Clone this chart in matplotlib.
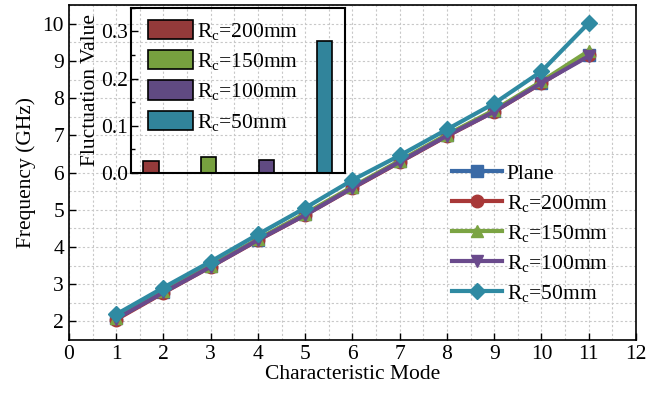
import numpy as np
import matplotlib.pyplot as plt
from matplotlib.ticker import MultipleLocator

plt.rcParams['font.family'] = ['Liberation Serif', 'DejaVu Serif']
plt.rcParams['mathtext.fontset'] = 'custom'
plt.rcParams['mathtext.rm'] = 'Liberation Serif'
plt.rcParams['mathtext.it'] = 'Liberation Serif'

# characteristic modes and resonant frequencies (GHz)
modes = np.arange(1, 12)
f_plane = [2.08, 2.80, 3.49, 4.20, 4.88, 5.60, 6.30, 7.00, 7.66, 8.42, 9.15]
f_200 = [2.05, 2.77, 3.47, 4.18, 4.86, 5.58, 6.28, 6.98, 7.64, 8.40, 9.17]
f_150 = [2.10, 2.81, 3.50, 4.21, 4.90, 5.62, 6.32, 7.02, 7.68, 8.45, 9.27]
f_100 = [2.07, 2.78, 3.47, 4.19, 4.86, 5.59, 6.29, 6.99, 7.64, 8.41, 9.13]
f_50 = [2.19, 2.91, 3.61, 4.34, 5.05, 5.80, 6.46, 7.16, 7.86, 8.72, 10.02]

# fluctuation values for inset bar chart
bar_labels = ['R$_\\mathrm{c}$=200mm', 'R$_\\mathrm{c}$=150mm', 'R$_\\mathrm{c}$=100mm', 'R$_\\mathrm{c}$=50mm']
fluct = [0.026, 0.033, 0.028, 0.279]

line_labels = ['Plane'] + bar_labels
line_colors = ['#3a6aa6', '#a83838', '#7ba443', '#6a4a8c', '#2f8aa2']
bar_colors = ['#943a3a', '#77a03f', '#604a82', '#31849b']
markers = ['s', 'o', '^', 'v', 'D']

FS = 15.5

fig = plt.figure(figsize=(6.57, 3.94), dpi=100)
ax = fig.add_axes([0.105, 0.137, 0.863, 0.850])

for y, lab, c, m in zip([f_plane, f_200, f_150, f_100, f_50], line_labels, line_colors, markers):
    ms = 8 if m == 'D' else 9
    ax.plot(modes, y, color=c, marker=m, markersize=ms, linewidth=3, label=lab)

ax.set_xlim(0, 12)
ax.set_ylim(1.5, 10.5)
ax.set_xticks(range(0, 13))
ax.set_yticks(range(2, 11))
ax.xaxis.set_minor_locator(MultipleLocator(0.5))
ax.yaxis.set_minor_locator(MultipleLocator(0.5))
ax.tick_params(which='major', direction='in', length=5, width=1, labelsize=FS)
ax.tick_params(which='minor', length=0)
ax.grid(True, which='both', color='#c8c8c8', linestyle=(0, (2, 2)), linewidth=0.8)
ax.set_axisbelow(True)
for s in ax.spines.values():
    s.set_linewidth(1.2)
ax.set_xlabel('Characteristic Mode', fontsize=FS, labelpad=1)
ax.set_ylabel('Frequency (GHz)', fontsize=FS, labelpad=5)
ax.legend(loc='lower right', bbox_to_anchor=(0.985, 0.05), frameon=False, fontsize=FS,
          handlelength=2.3, handletextpad=0.25, labelspacing=0.42)

# inset
ins = fig.add_axes([0.199, 0.561, 0.326, 0.419])
ins.patch.set_alpha(0)
xpos = np.arange(1, 5)
for x, v, c, lab in zip(xpos, fluct, bar_colors, bar_labels):
    ins.bar(x, v, width=0.26, color=c, edgecolor='black', linewidth=1.2, label=lab)
ins.set_xlim(0.65, 4.35)
ins.set_ylim(0, 0.35)
ins.set_xticks([])
ins.set_yticks([0.0, 0.1, 0.2, 0.3])
ins.set_yticklabels(['0.0', '0.1', '0.2', '0.3'])
ins.yaxis.set_minor_locator(MultipleLocator(0.05))
ins.tick_params(axis='y', which='major', direction='in', length=5, width=1, labelsize=FS, pad=2)
ins.tick_params(axis='y', which='minor', direction='in', length=3, width=1)
for s in ins.spines.values():
    s.set_linewidth(1.5)
ins.set_ylabel('Fluctuation Value', fontsize=FS, labelpad=1)
ins.legend(loc='upper left', bbox_to_anchor=(-0.012, 1.046), frameon=False, fontsize=FS,
           handlelength=2.1, handleheight=1.0, handletextpad=0.2, labelspacing=0.39)

plt.savefig('out.png', dpi=100)
